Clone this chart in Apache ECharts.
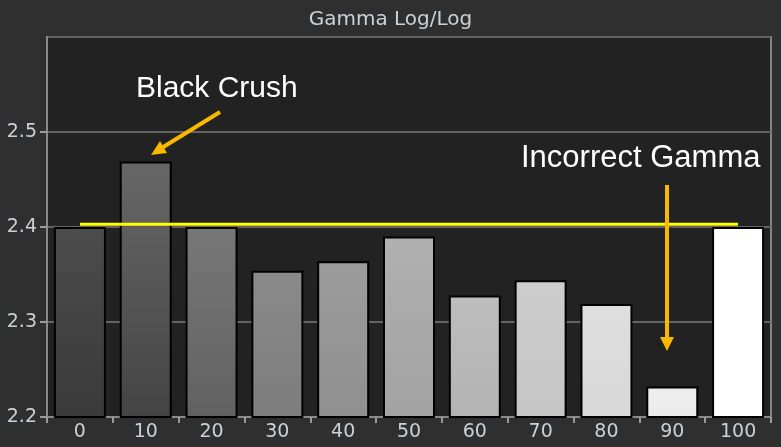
<!DOCTYPE html>
<html>
<head>
<meta charset="utf-8">
<script src="https://cdn.jsdelivr.net/npm/echarts@6/dist/echarts.min.js"></script>
<style>
  html, body { margin: 0; padding: 0; background: #2f2f2f; }
  #chart { width: 781px; height: 447px; }
</style>
</head>
<body>
<div id="chart"></div>
<script>
// data
var categories = ['0', '10', '20', '30', '40', '50', '60', '70', '80', '90', '100'];
var gammaValues = [2.400, 2.469, 2.400, 2.354, 2.364, 2.390, 2.328, 2.344, 2.319, 2.232, 2.400];
var targetGamma = [2.403, 2.403, 2.403, 2.403, 2.403, 2.403, 2.403, 2.403, 2.403, 2.403, 2.403];
var yTicks = [2.2, 2.3, 2.4, 2.5];

// bar shades (top, bottom)
var barTop = ['#4c4c4c', '#676767', '#777777', '#8a8a8a', '#9c9c9c', '#b0b0b0', '#bdbdbd', '#cdcdcd', '#dedede', '#eeeeee', '#ffffff'];
var barBottom = ['#3a3a3a', '#444444', '#616161', '#7d7d7d', '#8f8f8f', '#a2a2a2', '#b3b3b3', '#c5c5c5', '#d8d8d8', '#ebebeb', '#ffffff'];

var labelColor = '#c9d1d9';
var orange = '#f9b800';

var chart = echarts.init(document.getElementById('chart'));

var barData = gammaValues.map(function (v, i) {
    return {
        value: v,
        itemStyle: {
            color: new echarts.graphic.LinearGradient(0, 0, 0, 1, [
                {offset: 0, color: barTop[i]},
                {offset: 1, color: barBottom[i]}
            ])
        }
    };
});

var option = {
    backgroundColor: '#2f2f2f',
    animation: false,
    title: {
        text: 'Gamma Log/Log',
        left: 'center',
        top: 5,
        textStyle: {
            color: labelColor,
            fontFamily: 'DejaVu Sans',
            fontSize: 20,
            fontWeight: 'normal'
        }
    },
    grid: {
        left: 47,
        right: 10,
        top: 37,
        bottom: 30,
        show: true,
        backgroundColor: '#222222',
        borderColor: '#858585',
        borderWidth: 2
    },
    xAxis: {
        type: 'category',
        data: categories,
        boundaryGap: true,
        axisLine: {lineStyle: {color: '#8a8a8a', width: 2}},
        axisTick: {show: true, length: 6, lineStyle: {color: '#9a9a9a', width: 2}},
        axisLabel: {
            color: labelColor,
            fontFamily: 'DejaVu Sans',
            fontSize: 19,
            margin: 6
        }
    },
    yAxis: {
        type: 'value',
        min: 2.2,
        max: 2.6,
        interval: 0.1,
        axisLine: {show: true, lineStyle: {color: '#8a8a8a', width: 2}},
        axisTick: {show: true, length: 7, lineStyle: {color: '#9a9a9a', width: 2}},
        splitLine: {lineStyle: {color: '#646464', width: 2}},
        axisLabel: {
            color: labelColor,
            fontFamily: 'DejaVu Sans',
            fontSize: 19,
            margin: 10,
            showMaxLabel: false,
            formatter: function (v) {
                var hit = yTicks.filter(function (t) { return Math.abs(t - v) < 1e-6; });
                return hit.length ? hit[0].toFixed(1) : '';
            }
        }
    },
    series: [{
        name: 'Gamma',
        type: 'bar',
        data: barData,
        barCategoryGap: '21%',
        itemStyle: {borderColor: '#000000', borderWidth: 2},
        z: 2
    }, {
        name: 'Target',
        type: 'line',
        data: targetGamma,
        symbol: 'none',
        lineStyle: {color: '#ffff00', width: 3},
        z: 5
    }],
    graphic: [
        {
            type: 'text', left: 136, top: 74, z: 10,
            style: {text: 'Black Crush', fill: '#ffffff', font: '30px "Liberation Sans"'}
        },
        {
            type: 'line', z: 10,
            shape: {x1: 220, y1: 112, x2: 160, y2: 149},
            style: {stroke: orange, lineWidth: 4}
        },
        {
            type: 'polygon', z: 10,
            shape: {points: [[151, 155], [160, 141], [167, 153]]},
            style: {fill: orange}
        },
        {
            type: 'text', left: 521, top: 143, z: 10,
            style: {text: 'Incorrect Gamma', fill: '#ffffff', font: '31px "Liberation Sans"'}
        },
        {
            type: 'line', z: 10,
            shape: {x1: 667, y1: 185, x2: 667, y2: 339},
            style: {stroke: orange, lineWidth: 4}
        },
        {
            type: 'polygon', z: 10,
            shape: {points: [[660, 337], [674, 337], [667, 351]]},
            style: {fill: orange}
        }
    ]
};

chart.setOption(option);
</script>
</body>
</html>
